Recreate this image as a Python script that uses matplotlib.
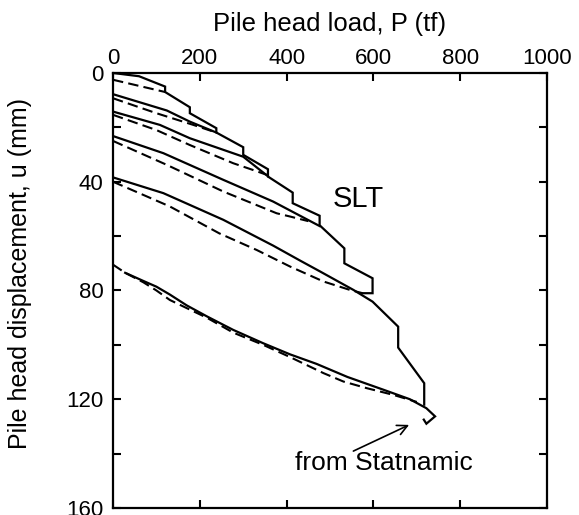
import matplotlib
matplotlib.use('Agg')
import matplotlib.pyplot as plt
from matplotlib.ticker import MultipleLocator

plt.rcParams['font.family'] = ['Liberation Sans', 'DejaVu Sans']

# SLT envelope (virgin loading with creep steps), P in tf, u in mm
env_p = [0, 60, 120, 120, 177, 177, 238, 238, 300, 300, 357, 357, 414, 414,
         476, 476, 533, 533, 598, 598, 575]
env_u = [0, 1.2, 5.0, 7.0, 12.6, 14.8, 20.3, 21.9, 27.3, 30.1, 35.4, 38.1, 44.0, 47.9,
         52.5, 56.0, 64.5, 70.0, 75.5, 81.0, 81.0]

# SLT reloading branches
reload2_p = [0, 124, 177, 238]
reload2_u = [7.8, 13.8, 17.9, 21.9]
reload3_p = [0, 108, 177, 300, 357]
reload3_u = [14.2, 19.1, 24.0, 30.8, 38.0]
reload4_p = [0, 116, 254, 369, 476]
reload4_u = [23.2, 29.5, 39.3, 47.3, 56.3]
reload5_p = [0, 116, 254, 369, 431, 477, 554, 598, 657, 657, 717, 717]
reload5_u = [38.4, 44.2, 54.0, 63.5, 69.0, 73.0, 79.8, 84.1, 93.3, 101.0, 114.1, 122.0]
last_p = [28, 70, 100, 131, 170, 216, 277, 346, 408, 469, 540, 623, 684, 722, 742, 722, 716]
last_u = [73.5, 76.5, 78.6, 81.5, 85.5, 89.5, 94.5, 99.4, 103.5, 107.0, 111.8, 116.5, 120.0,
          123.3, 126.3, 129.0, 127.5]

# dashed curves
dash1_p = [0, 120]
dash1_u = [2.5, 7.0]
dash2_p = [0, 100, 185, 230]
dash2_u = [9.3, 14.8, 19.1, 21.5]
dash3_p = [0, 100, 177, 277, 323, 355]
dash3_u = [15.4, 21.0, 26.5, 33.2, 35.7, 37.5]
dash4_p = [0, 124, 254, 377, 408, 450]
dash4_u = [25.0, 33.8, 43.6, 51.6, 52.8, 54.5]
dash5_p = [0, 131, 245, 331, 408, 485, 546, 575]
dash5_u = [40.0, 49.1, 59.0, 65.1, 71.2, 76.7, 79.8, 81.0]
dash6_p = [0, 28, 70, 100, 131, 170, 216, 277, 346, 408, 485, 531, 584, 646, 700]
dash6_u = [70.5, 73.5, 77.0, 80.0, 83.5, 86.5, 90.0, 95.5, 100.0, 104.5, 110.4, 113.5,
           115.9, 118.4, 121.0]

solid_lines = [(env_p, env_u), (reload2_p, reload2_u), (reload3_p, reload3_u),
               (reload4_p, reload4_u), (reload5_p, reload5_u), (last_p, last_u)]
dashed_lines = [(dash1_p, dash1_u), (dash2_p, dash2_u), (dash3_p, dash3_u),
                (dash4_p, dash4_u), (dash5_p, dash5_u), (dash6_p, dash6_u)]

fig = plt.figure(figsize=(5.79, 5.15), dpi=100)
ax = fig.add_axes([0.1952, 0.0136, 0.7496, 0.8447])

for p, u in solid_lines:
    ax.plot(p, u, color='black', lw=1.6, solid_joinstyle='miter')
for p, u in dashed_lines:
    ax.plot(p, u, color='black', lw=1.5, dashes=(5, 2.5))

ax.text(507, 49.3, 'SLT', fontsize=21, ha='left', va='baseline')
ax.annotate('', xy=(688, 129), xytext=(548, 139.5),
            arrowprops=dict(arrowstyle='->', color='black', lw=1.2, mutation_scale=18))
ax.text(419, 146.2, 'from Statnamic', fontsize=19, ha='left', va='baseline')

# 坐标轴
ax.set_xlim(0, 1000)
ax.set_ylim(160, 0)
ax.xaxis.set_major_locator(MultipleLocator(200))
ax.yaxis.set_major_locator(MultipleLocator(40))
ax.yaxis.set_minor_locator(MultipleLocator(20))
ax.tick_params(which='both', direction='in', top=True, bottom=True, left=True, right=True,
               labeltop=True, labelbottom=False, length=6, width=1.5, labelsize=16)
ax.tick_params(axis='y', pad=7)
ax.tick_params(axis='x', pad=3)
for s in ax.spines.values():
    s.set_linewidth(1.6)

ax.xaxis.set_label_position('top')
ax.set_xlabel('Pile head load, P (tf)', fontsize=18.5, labelpad=12)
ax.set_ylabel('Pile head displacement, u (mm)', fontsize=18)
ax.yaxis.set_label_coords(-0.187, 0.538)

plt.savefig('out.png', dpi=100)
